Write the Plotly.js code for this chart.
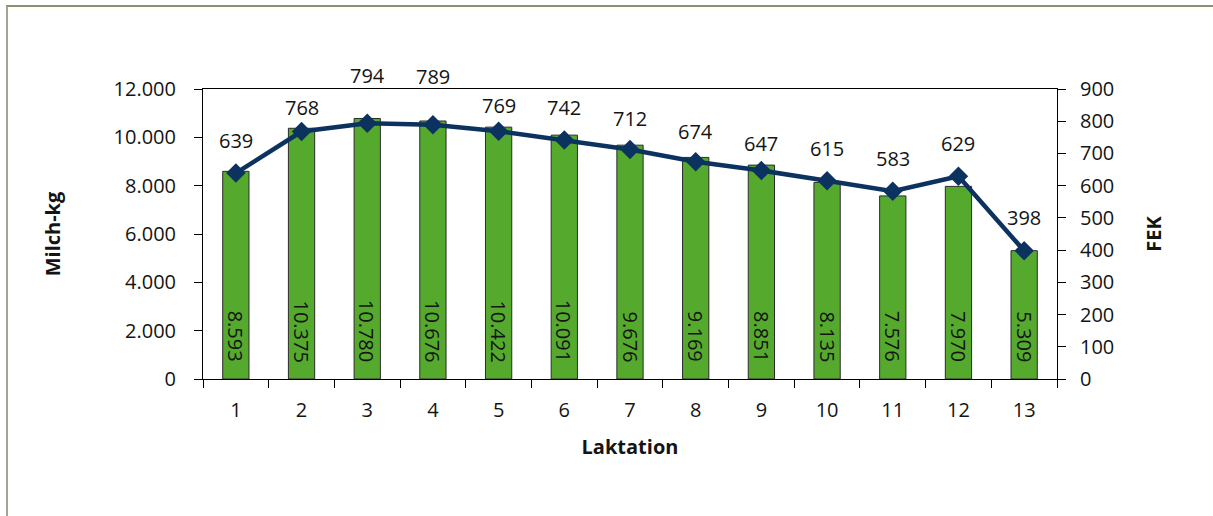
<!DOCTYPE html>
<html>
<head>
<meta charset="utf-8">
<script src="https://cdn.plot.ly/plotly-3.0.1.min.js"></script>
<style>
  html, body { margin: 0; padding: 0; background: #ffffff; }
  #wrap { position: relative; width: 1213px; height: 516px; overflow: hidden; }
  #chart { position: absolute; left: 0; top: 0; width: 1213px; height: 516px; }
  #frame { position: absolute; left: 6px; top: 5px; width: 1240px; height: 560px;
           border-left: 2px solid #a5a491; border-top: 2px solid #8f8e74; pointer-events: none; }
</style>
</head>
<body>
<div id="wrap">
  <div id="chart"></div>
  <div id="frame"></div>
</div>
<script>
// ---- data ----
const laktation = ['1','2','3','4','5','6','7','8','9','10','11','12','13'];
const milchKg   = [8593, 10375, 10780, 10676, 10422, 10091, 9676, 9169, 8851, 8135, 7576, 7970, 5309];
const fek       = [639, 768, 794, 789, 769, 742, 712, 674, 647, 615, 583, 629, 398];

// ---- styling ----
const FONT = '"Open Sans", "Noto Sans", sans-serif';
const TXT = '#141414';
const NAVY = '#0c3360';
const GREEN = '#55aa2e';
// vertical offsets (px) of the FEK labels above their points
const labelShift = [33, 24, 48, 48, 26, 32, 31, 30, 27, 32, 33, 33, 33];

const bars = {
  type: 'bar',
  x: laktation,
  y: milchKg,
  yaxis: 'y',
  width: 0.4,
  marker: { color: GREEN, line: { color: '#2b2b2b', width: 1 } },
  hoverinfo: 'x+y',
  showlegend: false
};

const line = {
  type: 'scatter',
  mode: 'lines+markers',
  x: laktation,
  y: fek,
  yaxis: 'y2',
  line: { color: NAVY, width: 4.5 },
  marker: { symbol: 'diamond', size: 15, color: NAVY },
  showlegend: false
};

function thousands(v) {
  return String(v).replace(/\B(?=(\d{3})+(?!\d))/g, '.');
}

const fekLabels = fek.map((v, i) => ({
  x: i, y: v, xref: 'x', yref: 'y2',
  text: String(v), showarrow: false,
  yshift: labelShift[i],
  font: { family: FONT, size: 20, color: TXT }
}));

const barLabels = milchKg.map((v, i) => ({
  x: i, y: 0, xref: 'x', yref: 'y',
  text: thousands(v), showarrow: false,
  textangle: 90,
  xanchor: 'center', yanchor: 'bottom',
  yshift: 15,
  font: { family: FONT, size: 20, color: TXT }
}));

const layout = {
  width: 1213, height: 516,
  margin: { l: 203, r: 156, t: 89, b: 137, pad: 0 },
  paper_bgcolor: '#ffffff',
  plot_bgcolor: '#ffffff',
  separators: ',.',
  font: { family: FONT, size: 20, color: TXT },
  xaxis: {
    type: 'category',
    range: [-0.5, laktation.length - 0.5],
    showline: true, linecolor: '#000000', linewidth: 1, mirror: true,
    ticks: 'outside', ticklen: 8, tickcolor: '#000000', tickwidth: 1,
    tickson: 'boundaries',
    ticklabelstandoff: 13,
    showgrid: false, zeroline: false,
    tickfont: { family: FONT, size: 20, color: TXT },
    title: { text: 'Laktation', standoff: 17, font: { family: FONT, size: 20, color: TXT, weight: 'bold' } },
    automargin: false
  },
  yaxis: {
    range: [0, 12000], dtick: 2000, tickformat: ',d',
    showline: true, linecolor: '#000000', linewidth: 1,
    ticks: 'outside', ticklen: 8, tickcolor: '#000000', tickwidth: 1,
    ticklabelstandoff: 14,
    showgrid: false, zeroline: false,
    tickfont: { family: FONT, size: 20, color: TXT },
    title: { text: 'Milch-kg', standoff: 47, font: { family: FONT, size: 20, color: TXT, weight: 'bold' } },
    automargin: false
  },
  yaxis2: {
    overlaying: 'y', side: 'right',
    range: [0, 900], dtick: 100, tickformat: 'd',
    showline: true, linecolor: '#000000', linewidth: 1,
    ticks: 'outside', ticklen: 8, tickcolor: '#000000', tickwidth: 1,
    ticklabelstandoff: 10,
    showgrid: false, zeroline: false,
    tickfont: { family: FONT, size: 20, color: TXT },
    title: { text: 'FEK', standoff: 33, font: { family: FONT, size: 20, color: TXT, weight: 'bold' } },
    automargin: false
  },
  annotations: barLabels.concat(fekLabels)
};

Plotly.newPlot('chart', [bars, line], layout, { displayModeBar: false, staticPlot: true });
</script>
</body>
</html>
